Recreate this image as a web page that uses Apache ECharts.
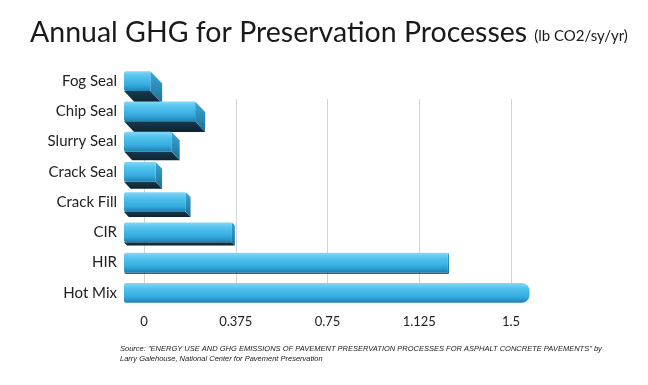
<!DOCTYPE html>
<html>
<head>
<meta charset="utf-8">
<script src="https://cdn.jsdelivr.net/npm/echarts@6/dist/echarts.min.js"></script>
<style>html,body{margin:0;padding:0;background:#fff}#c{width:648px;height:385px}</style>
</head>
<body>
<div id="c"></div>
<script>
const categories = ['Fog Seal', 'Chip Seal', 'Slurry Seal', 'Crack Seal', 'Crack Fill', 'CIR', 'HIR', 'Hot Mix'];
const values = [0.10, 0.27, 0.18, 0.12, 0.235, 0.41, 1.23, 1.54];
const tickLabels = ['0', '0.375', '0.75', '1.125', '1.5'];
const titleMain = 'Annual GHG for Preservation Processes';
const titleUnit = '(lb CO2/sy/yr)';
const sourceLine1 = 'Source: "ENERGY USE AND GHG EMISSIONS OF PAVEMENT PRESERVATION PROCESSES FOR ASPHALT CONCRETE PAVEMENTS" by';
const sourceLine2 = 'Larry Galehouse, National Center for Pavement Preservation';

const chart = echarts.init(document.getElementById('c'), null, {renderer: 'canvas'});
const VPY = 292, K = 0.062;

function renderItem(params, api) {
  const v = api.value(0), c = api.value(1);
  const p0 = api.coord([0, c]);
  const p1 = api.coord([v, c]);
  const band = api.size([0, 1])[1];
  const h = band * 0.66;
  const top = p0[1] - h / 2, bottom = top + h;
  const x0 = p0[0], x1 = p1[0];
  const children = [];
  const dy = K * (VPY - bottom);
  const dx = dy * 0.95;
  if (dy > 0.5) {
    children.push({
      type: 'polygon',
      shape: {points: [[x0, bottom], [x1, bottom], [x1 + dx, bottom + dy], [x0 + dx, bottom + dy]]},
      style: {fill: new echarts.graphic.LinearGradient(0, 0, 0, 1, [
        {offset: 0, color: '#16394b'}, {offset: 1, color: '#0c2331'}])}
    });
    children.push({
      type: 'polygon',
      shape: {points: [[x1, top], [x1, bottom], [x1 + dx, bottom + dy], [x1 + dx, top + dy]]},
      style: {fill: new echarts.graphic.LinearGradient(0, 0, 0, 1, [
        {offset: 0, color: '#3aa7d6'}, {offset: 1, color: '#1d6f97'}])}
    });
  }
  const r = dy > 0.5 ? 1 : h / 2.6;
  children.push({
    type: 'rect',
    shape: {x: x0, y: top, width: x1 - x0, height: h, r: [2, r, r, 2]},
    style: {fill: new echarts.graphic.LinearGradient(0, 0, 0, 1, [
      {offset: 0, color: '#86d8f5'},
      {offset: 0.25, color: '#55c4ef'},
      {offset: 0.7, color: '#34abdf'},
      {offset: 1, color: '#1f7fae'}])}
  });
  return {type: 'group', children: children};
}

chart.setOption({
  animation: false,
  backgroundColor: '#fff',
  title: [{
    left: 25, top: 13,
    text: '{a|' + titleMain + '} {b|' + titleUnit + '}',
    textStyle: {
      rich: {
        a: {fontFamily: 'Lato', fontSize: 28.5, color: '#1a1a1a', fontWeight: 'normal'},
        b: {fontFamily: 'Lato', fontSize: 15, color: '#1a1a1a', fontWeight: 'normal', padding: [7, 0, 0, 2]}
      }
    }
  }, {
    left: 115, top: 339,
    text: sourceLine1 + '\n' + sourceLine2,
    textStyle: {fontFamily: 'Liberation Sans', fontStyle: 'italic', fontSize: 7.5, fontWeight: 'normal', color: '#222', lineHeight: 10}
  }],
  grid: [
    {left: 144, right: 137, top: 99, bottom: 83},
    {left: 124, right: 129, top: 66, bottom: 77}
  ],
  xAxis: [{
    gridIndex: 0, type: 'value', min: 0, max: 1.5, interval: 0.375,
    axisLine: {show: false}, axisTick: {show: false},
    splitLine: {show: true, lineStyle: {color: '#d4d4d4', width: 1}},
    axisLabel: {margin: 13, fontFamily: 'Lato', fontSize: 13, color: '#222',
      formatter: (val, i) => tickLabels[i]}
  }, {
    gridIndex: 1, type: 'value', min: 0, max: 1.5, show: false
  }],
  yAxis: [{
    gridIndex: 0, type: 'value', show: false
  }, {
    gridIndex: 1, type: 'category', data: categories, inverse: true,
    axisLine: {show: false}, axisTick: {show: false},
    axisLabel: {margin: 7, fontFamily: 'Lato', fontSize: 15, color: '#222'}
  }],
  series: [{
    type: 'custom',
    xAxisIndex: 1, yAxisIndex: 1,
    renderItem: renderItem,
    encode: {x: 0, y: 1},
    data: values.map((v, i) => [v, i])
  }]
});
</script>
</body>
</html>
